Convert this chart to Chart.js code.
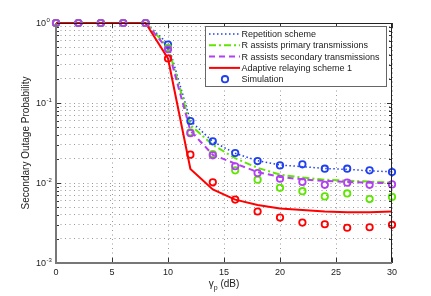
<!DOCTYPE html>
<html>
<head>
<meta charset="utf-8">
<script src="https://cdn.jsdelivr.net/npm/chart.js@4.4.1/dist/chart.umd.min.js"></script>
<style>
  html, body { margin: 0; background: #fff; }
</style>
</head>
<body>
<canvas id="c" width="431" height="296"></canvas>
<script>
// --- données ---
const gammaP = [0, 2, 4, 6, 8, 10, 12, 14, 16, 18, 20, 22, 24, 26, 28, 30];

// courbes analytiques
const repLine = [1, 1, 1, 1, 1, 0.55, 0.06, 0.033, 0.0235, 0.019, 0.0168, 0.016, 0.0152, 0.0148, 0.0142, 0.0138];
const priLine = [1, 1, 1, 1, 1, 0.5, 0.053, 0.03, 0.0204, 0.0155, 0.0127, 0.0117, 0.011, 0.0107, 0.0104, 0.0101];
const secLine = [1, 1, 1, 1, 1, 0.47, 0.045, 0.0225, 0.0175, 0.0137, 0.0119, 0.0111, 0.0106, 0.0103, 0.0101, 0.0099];
const adaLine = [1, 1, 1, 1, 1, 0.36, 0.015, 0.0083, 0.0062, 0.0053, 0.0048, 0.0046, 0.0044, 0.0043, 0.0043, 0.0044];

// points de simulation
const repSim = [1, 1, 1, 1, 1, 0.537, 0.0596, 0.0332, 0.0237, 0.0188, 0.0166, 0.0171, 0.0151, 0.0151, 0.0144, 0.0137];
const priSim = [1, 1, 1, 1, 1, 0.49, 0.043, 0.023, 0.0144, 0.011, 0.0087, 0.0079, 0.0068, 0.0074, 0.0063, 0.0067];
const secSim = [1, 1, 1, 1, 1, 0.47, 0.042, 0.0222, 0.0162, 0.0133, 0.0113, 0.0103, 0.0095, 0.0101, 0.0095, 0.0096];
const adaSim = [1, 1, 1, 1, 1, 0.36, 0.0226, 0.0102, 0.0062, 0.0044, 0.0037, 0.0032, 0.00305, 0.00276, 0.0028, 0.003];

const xTicks = [0, 5, 10, 15, 20, 25, 30];
const yMajor = [1, 0.1, 0.01, 0.001];
const yExp = ['0', '-1', '-2', '-3'];
const yGrid = [];
for (const d of [0.001, 0.01, 0.1]) for (let k = 1; k <= 9; k++) yGrid.push(+(k * d).toPrecision(2));
yGrid.push(1);

const legendLabels = [
  'Repetition scheme',
  'R assists primary transmissions',
  'R assists secondary transmissions',
  'Adaptive relaying scheme 1',
  'Simulation'
];

const FONT = "'Liberation Sans', Arial, sans-serif";
const BLUE = '#2040f0', GREEN = '#5ee600', PURPLE = '#b040f0', RED = '#ff0000';

const pts = ys => gammaP.map((x, i) => ({ x, y: ys[i] }));

function lineDs(data, color, dash, width, order) {
  return { data: pts(data), borderColor: color, borderDash: dash, borderWidth: width,
    pointRadius: 0, fill: false, tension: 0, order, clip: 2 };
}
function simDs(data, color, order) {
  return { data: pts(data), showLine: false, borderColor: color, backgroundColor: 'rgba(0,0,0,0)',
    pointRadius: 3.2, pointBorderWidth: 1.8, pointStyle: 'circle', order, clip: false };
}

// cadre "matlab" : axes, tics vers l'intérieur, légende, titres
const matlabDeco = {
  id: 'matlabDeco',
  afterDatasetsDraw(chart) {
    const { ctx, chartArea: a, scales: { x, y } } = chart;
    ctx.save();
    ctx.setLineDash([]);
    ctx.strokeStyle = '#333';
    ctx.lineWidth = 1;
    ctx.beginPath();
    for (const v of yGrid) {
      const py = Math.round(y.getPixelForValue(v)) + 0.5;
      const len = yMajor.includes(v) ? 5 : 3;
      ctx.moveTo(a.left, py); ctx.lineTo(a.left + len, py);
      ctx.moveTo(a.right, py); ctx.lineTo(a.right - len, py);
    }
    for (const v of xTicks) {
      const px = Math.round(x.getPixelForValue(v)) + 0.5;
      ctx.moveTo(px, a.bottom); ctx.lineTo(px, a.bottom - 5);
      ctx.moveTo(px, a.top); ctx.lineTo(px, a.top + 5);
    }
    ctx.stroke();
    // haut et droite
    ctx.strokeStyle = '#222';
    ctx.beginPath();
    ctx.moveTo(a.left, a.top + 0.5); ctx.lineTo(a.right, a.top + 0.5);
    ctx.moveTo(a.right - 0.5, a.top); ctx.lineTo(a.right - 0.5, a.bottom);
    ctx.stroke();
    // gauche et bas, plus épais et gris
    ctx.strokeStyle = '#777';
    ctx.lineWidth = 2;
    ctx.beginPath();
    ctx.moveTo(a.left, a.top); ctx.lineTo(a.left, a.bottom);
    ctx.lineTo(a.right, a.bottom);
    ctx.stroke();
    ctx.restore();
  },
  afterDraw(chart) {
    const { ctx, chartArea: a, scales: { y } } = chart;
    const ds = chart.data.datasets;
    ctx.save();
    ctx.fillStyle = '#222';

    // étiquettes 10^k
    ctx.textBaseline = 'middle';
    ctx.textAlign = 'left';
    yMajor.forEach((v, i) => {
      const py = y.getPixelForValue(v);
      ctx.font = '9px ' + FONT;
      ctx.fillText('10', 36, py + 0.5);
      const w = ctx.measureText('10').width;
      ctx.font = '6px ' + FONT;
      ctx.fillText(yExp[i], 36 + w + 0.5, py - 2.5);
    });

    // titre axe y
    ctx.save();
    ctx.translate(26, (a.top + a.bottom) / 2);
    ctx.rotate(-Math.PI / 2);
    ctx.textAlign = 'center';
    ctx.font = '10px ' + FONT;
    ctx.fillText('Secondary Outage Probability', 0, 0);
    ctx.restore();

    // titre axe x : γ_p (dB)
    ctx.textBaseline = 'alphabetic';
    ctx.font = '10px ' + FONT;
    const wG = ctx.measureText('γ').width;
    const wD = ctx.measureText(' (dB)').width;
    ctx.font = '7px ' + FONT;
    const wP = ctx.measureText('p').width;
    let tx = (a.left + a.right) / 2 - (wG + wP + wD) / 2;
    ctx.font = '10px ' + FONT;
    ctx.fillText('γ', tx, 287);
    ctx.font = '7px ' + FONT;
    ctx.fillText('p', tx + wG, 290);
    ctx.font = '10px ' + FONT;
    ctx.fillText(' (dB)', tx + wG + wP, 287);

    // légende
    const lx = 205, ly = 26, lw = 181, lh = 60;
    ctx.fillStyle = '#fff';
    ctx.fillRect(lx, ly, lw, lh);
    ctx.strokeStyle = '#666';
    ctx.lineWidth = 1;
    ctx.strokeRect(lx + 0.5, ly + 0.5, lw, lh);
    ctx.font = '9px ' + FONT;
    ctx.textBaseline = 'middle';
    legendLabels.forEach((lab, i) => {
      const ry = ly + 8 + i * 11.3;
      if (i < 4) {
        const d = ds[i];
        ctx.strokeStyle = d.borderColor;
        ctx.lineWidth = d.borderWidth;
        ctx.setLineDash(d.borderDash);
        ctx.beginPath();
        ctx.moveTo(209, ry); ctx.lineTo(240, ry);
        ctx.stroke();
        ctx.setLineDash([]);
      } else {
        const d = ds[5];
        ctx.strokeStyle = d.borderColor;
        ctx.lineWidth = d.pointBorderWidth;
        ctx.beginPath();
        ctx.arc(225, ry, d.pointRadius, 0, Math.PI * 2);
        ctx.stroke();
      }
      ctx.fillStyle = '#222';
      ctx.fillText(lab, 241.5, ry + 0.5);
    });
    ctx.restore();
  }
};

new Chart('c', {
  type: 'line',
  data: {
    datasets: [
      lineDs(repLine, BLUE, [1.5, 2.5], 1.5, 10),
      lineDs(priLine, GREEN, [7, 3, 2, 3], 2, 9),
      lineDs(secLine, PURPLE, [6, 4], 2, 8),
      lineDs(adaLine, RED, [], 2, 7),
      simDs(adaSim, RED, 4),
      simDs(repSim, BLUE, 3),
      simDs(priSim, GREEN, 2),
      simDs(secSim, PURPLE, 1)
    ]
  },
  options: {
    responsive: false,
    animation: false,
    devicePixelRatio: 1,
    layout: { padding: { left: 0, right: 39, top: 23, bottom: 0 } },
    plugins: { legend: { display: false }, tooltip: { enabled: false } },
    scales: {
      x: {
        type: 'linear', min: 0, max: 30,
        afterBuildTicks: s => { s.ticks = xTicks.map(v => ({ value: v })); },
        afterFit: s => { s.height = 33; },
        grid: { color: 'rgba(0,0,0,0.4)', lineWidth: 1, drawTicks: false },
        border: { display: false, dash: [1, 3.5] },
        ticks: { color: '#222', font: { family: FONT, size: 9 }, padding: 4, maxRotation: 0 }
      },
      y: {
        type: 'logarithmic', min: 0.001, max: 1,
        afterBuildTicks: s => { s.ticks = yGrid.map(v => ({ value: v })); },
        afterFit: s => { s.width = 56; },
        grid: { color: 'rgba(0,0,0,0.4)', lineWidth: 1, drawTicks: false },
        border: { display: false, dash: [1, 3.5] },
        ticks: { display: false }
      }
    }
  },
  plugins: [matlabDeco]
});
</script>
</body>
</html>
